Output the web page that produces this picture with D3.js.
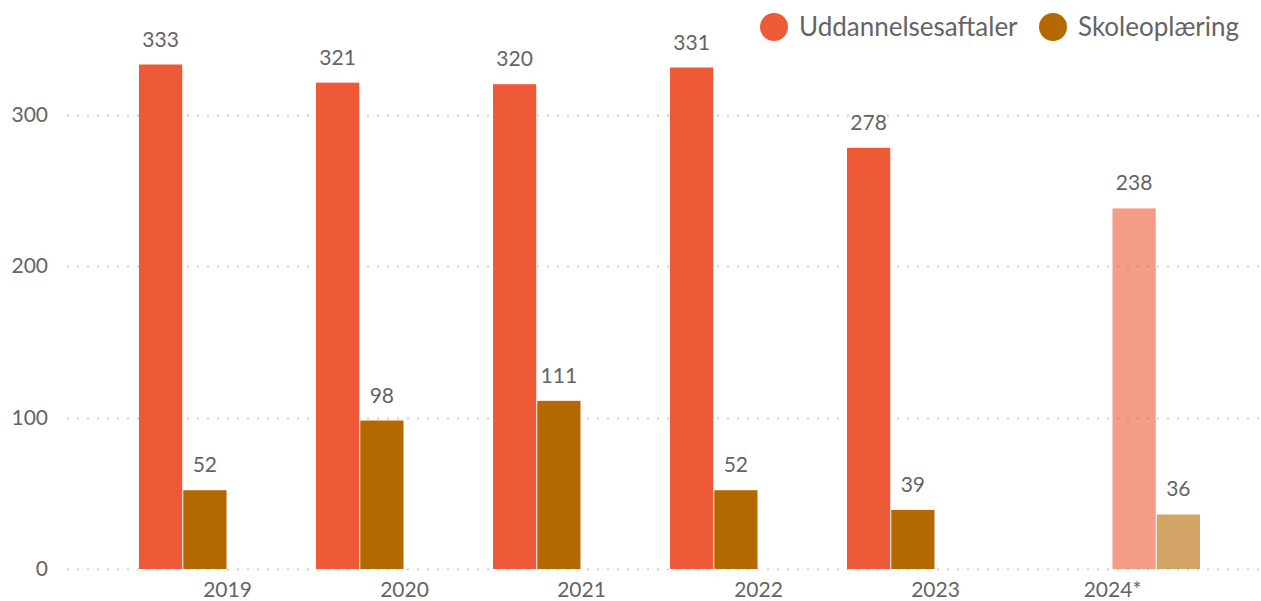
<!DOCTYPE html>
<html>
<head>
<meta charset="utf-8">
<script src="https://cdn.jsdelivr.net/npm/d3@7"></script>
<style>
  body { margin: 0; background: #fff; }
  text { font-family: "Lato", "Source Sans Pro", sans-serif; fill: #646464; }
</style>
</head>
<body>
<div id="chart"></div>
<script>
"use strict";

// data
var years = ["2019", "2020", "2021", "2022", "2023", "2024*"];
var uddannelsesaftaler = [333, 321, 320, 331, 278, 238];
var skoleoplaering = [52, 98, 111, 52, 39, 36];
var yTicks = [0, 100, 200, 300];
var seriesNames = ["Uddannelsesaftaler", "Skoleoplæring"];
var seriesColors = ["#ee5a38", "#b46900"];

var width = 1261, height = 601;

var svg = d3.select("#chart").append("svg")
    .attr("width", width).attr("height", height);

var x = d3.scaleBand().domain(years).range([139, 1201]).padding(0);
// four slots per year: the last year uses the two right ones (lighter colours)
var slot = d3.scaleBand().domain([0, 1, 2, 3]).range([0, x.bandwidth()]).padding(0);
var y = d3.scaleLinear().domain([0, 300]).range([569, 114.5]);

// grid lines
var grid = svg.append("g");
grid.selectAll("line").data(yTicks).enter().append("line")
    .attr("x1", 67).attr("x2", 1261)
    .attr("y1", function(d){ return Math.round(y(d)) + 0.5; })
    .attr("y2", function(d){ return Math.round(y(d)) + 0.5; })
    .attr("stroke", "#cfcfcf")
    .attr("stroke-width", 2)
    .attr("stroke-dasharray", "2,8");

// y tick labels
svg.append("g").selectAll("text").data(yTicks).enter().append("text")
    .attr("x", 48)
    .attr("y", function(d){ return y(d); })
    .attr("dy", "0.35em")
    .attr("text-anchor", "end")
    .style("font-size", "21px")
    .text(function(d){ return d; });

// bars
var rows = [];
years.forEach(function(yr, i){
    var last = i === years.length - 1;
    rows.push({year: yr, s: 0, slot: last ? 2 : 0, v: uddannelsesaftaler[i], faded: last});
    rows.push({year: yr, s: 1, slot: last ? 3 : 1, v: skoleoplaering[i], faded: last});
});

svg.append("g").selectAll("rect").data(rows).enter().append("rect")
    .attr("x", function(d){ return x(d.year) + slot(d.slot); })
    .attr("y", function(d){ return y(d.v); })
    .attr("width", slot.bandwidth() - 1)
    .attr("height", function(d){ return y(0) - y(d.v); })
    .attr("fill", function(d){ return seriesColors[d.s]; })
    .attr("fill-opacity", function(d){ return d.faded ? 0.6 : 1; });

// value labels
svg.append("g").selectAll("text").data(rows).enter().append("text")
    .attr("x", function(d){ return x(d.year) + slot(d.slot) + (slot.bandwidth() - 1) / 2; })
    .attr("y", function(d){ return y(d.v) - 18; })
    .attr("text-anchor", "middle")
    .style("font-size", "21px")
    .text(function(d){ return d.v; });

// x labels
svg.append("g").selectAll("text").data(years).enter().append("text")
    .attr("x", function(d){ return x(d) + x.bandwidth() / 2; })
    .attr("y", 597)
    .attr("text-anchor", "middle")
    .style("font-size", "21px")
    .text(function(d){ return d; });

// legend
var legendX = [774, 1053];
var legend = svg.append("g").selectAll("g").data(seriesNames).enter().append("g")
    .attr("transform", function(d, i){ return "translate(" + legendX[i] + ",27)"; });
legend.append("circle").attr("r", 14)
    .attr("fill", function(d, i){ return seriesColors[i]; });
legend.append("text")
    .attr("x", 25).attr("dy", "0.35em")
    .style("font-size", "26px")
    .text(function(d){ return d; });
</script>
</body>
</html>
